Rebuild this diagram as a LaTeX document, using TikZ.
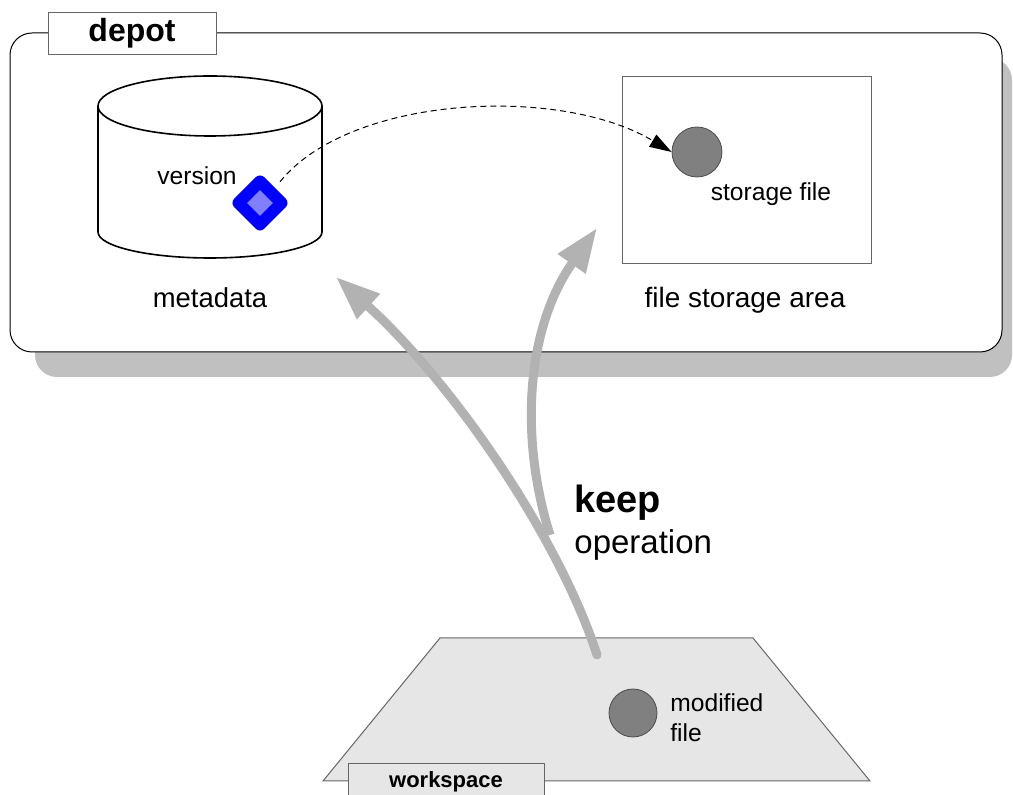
\documentclass[tikz,border=0pt]{standalone}
\usepackage{fontspec}
\setmainfont{Liberation Sans}
\usetikzlibrary{arrows.meta,shapes.geometric}

\definecolor{shadowgray}{RGB}{192,192,192}
\definecolor{arrowgray}{RGB}{178,178,178}
\definecolor{wsgray}{RGB}{230,230,230}
\definecolor{filegray}{RGB}{128,128,128}
\definecolor{verlight}{RGB}{128,128,255}

\begin{document}
\begin{tikzpicture}[x=0.5pt,y=-0.5pt,
  txt/.style={inner sep=0pt,font=\fontsize{12.3}{15}\selectfont},
  tab/.style={draw=gray!80!black,inner sep=0pt,minimum height=21pt},
  gfile/.style={circle,draw=black!70,fill=filegray,inner sep=0pt},
  keeparrow/.style={draw=arrowgray,line width=4.5pt,line cap=round,
    -{Triangle[length=22pt,width=16pt]}}]
\clip (0,0) rectangle (1013,795);

% depot
\fill[shadowgray,rounded corners=11pt] (35,58) rectangle (1012,377);
\draw[fill=white,rounded corners=11pt,line width=0.5pt] (10,33) rectangle (1002,352);
\node[tab,fill=white,minimum width=84pt,font=\fontsize{16}{18}\bfseries] (depot) at (132,33) {depot};

% metadata cylinder
\draw[line width=0.8pt,fill=white] (98,106) -- (98,232) arc[start angle=180,end angle=360,x radius=56pt,y radius=13pt] -- (322,106);
\draw[line width=0.8pt] (210,106) ellipse[x radius=56pt,y radius=15pt];
\node[txt] (version) at (197,176) {version};
\node[diamond,draw=blue,fill=verlight,line width=6pt,line join=round,inner sep=0pt,
  minimum width=24pt,minimum height=24pt] (ver) at (260,203) {};
\node[txt,font=\fontsize{13.7}{16}\selectfont] (meta) at (210,298) {metadata};

% file storage area
\draw[draw=gray!80!black,line width=0.5pt] (622,77) rectangle (871,264);
\node[gfile,minimum size=25pt] (sfile) at (697,152) {};
\node[txt] (slabel) at (771,194) {storage file};
\node[txt,font=\fontsize{14}{16}\selectfont] (area) at (745,300) {file storage area};

\draw[dash pattern=on 3pt off 2pt,line width=0.5pt,-{Triangle[length=11pt,width=7pt]},shorten <=4pt]
  (ver.north east) .. controls (350,95) and (560,85) .. (sfile.west);

% workspace
\draw[fill=wsgray,draw=gray!80!black,line width=0.5pt] (323,781) -- (440,638) -- (753,638) -- (870,781) -- cycle;
\node[tab,fill=wsgray,minimum width=98pt,minimum height=20pt,anchor=north,
  font=\fontsize{11}{13}\bfseries] (ws) at (446,763) {\raisebox{4pt}{workspace}};
\node[gfile,minimum size=24pt] (mfile) at (633,713) {};
\node[txt,anchor=west,align=left,font=\fontsize{12.3}{15}\selectfont] (mlabel) at (670,718) {modified\\file};

% keep operation
\coordinate (kstart) at (597,655);
\coordinate (kbranch) at (550,535);
\draw[keeparrow] (kstart) .. controls (560,540) and (455,385) .. (336,277);
\draw[keeparrow,line cap=butt] (kbranch) .. controls (520,440) and (525,330) .. (597,228);
\node[anchor=west,inner sep=0pt,font=\fontsize{19}{22}\bfseries] (keep) at (574,503) {keep};
\node[anchor=west,inner sep=0pt,font=\fontsize{16.5}{20}\selectfont] (op) at (574,545) {operation};

\end{tikzpicture}
\end{document}
